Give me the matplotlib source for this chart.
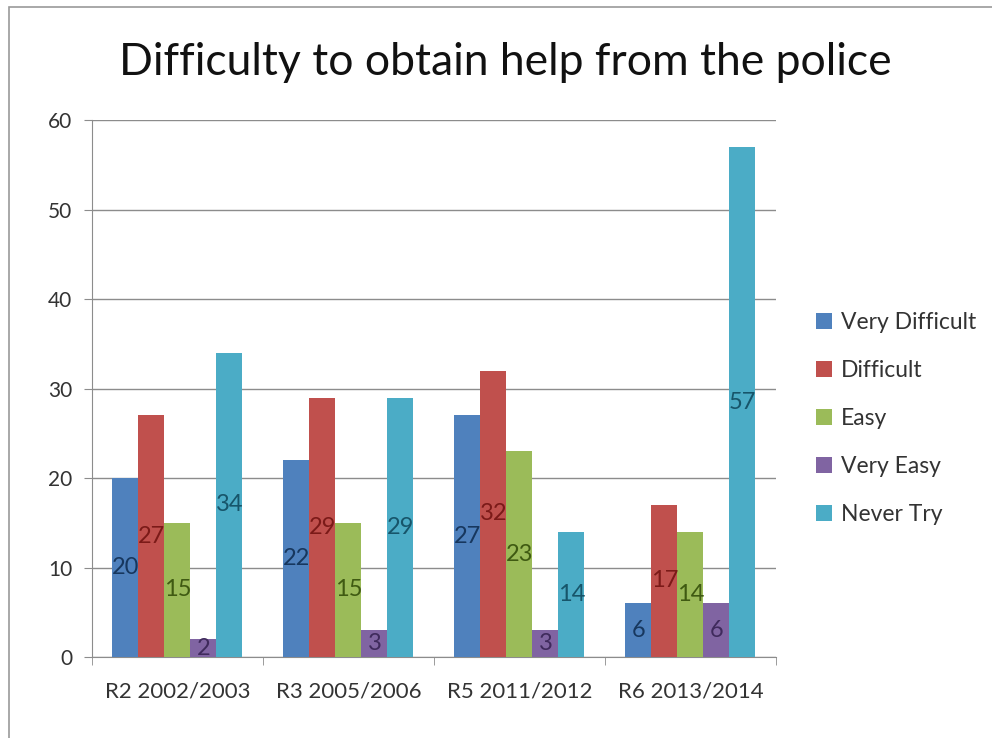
import numpy as np
from matplotlib import pyplot as plt
from matplotlib.patches import Rectangle

plt.rcParams['font.family'] = ['Lato', 'DejaVu Sans']

rounds = ['R2 2002/2003', 'R3 2005/2006', 'R5 2011/2012', 'R6 2013/2014']
very_difficult = [20, 22, 27, 6]
difficult = [27, 29, 32, 17]
easy = [15, 15, 23, 14]
very_easy = [2, 3, 3, 6]
never_try = [34, 29, 14, 57]

series = [
    ('Very Difficult', very_difficult, '#4F81BD', '#17375E'),
    ('Difficult', difficult, '#C0504D', '#7B1A18'),
    ('Easy', easy, '#9BBB59', '#3F5A12'),
    ('Very Easy', very_easy, '#8064A2', '#3F2A5C'),
    ('Never Try', never_try, '#4BACC6', '#17556A'),
]

fig = plt.figure(figsize=(9.92, 7.38), dpi=100)
# thin frame around the chart area
fig.patches.append(Rectangle((0.009, -0.01), 1.2, 1.0, transform=fig.transFigure,
                             fill=False, edgecolor='#9a9a9a', linewidth=1.2))
ax = fig.add_axes([0.0927, 0.1098, 0.6895, 0.7272])

x = np.arange(len(rounds))
width = 0.152
for i, (name, vals, color, txtcolor) in enumerate(series):
    pos = x + (i - 2) * width
    bars = ax.bar(pos, vals, width, color=color, label=name, zorder=3)
    for b, v in zip(bars, vals):
        ax.text(b.get_x() + b.get_width() / 2, v / 2, str(v), ha='center', va='center',
                fontsize=17, color=txtcolor, zorder=4)

ax.set_ylim(0, 60)
ax.set_xlim(-0.5, len(rounds) - 0.5)
ax.set_yticks(range(0, 61, 10))
ax.yaxis.grid(True, color='#8c8c8c', linewidth=1)
ax.set_axisbelow(True)

ax.set_xticks(x)
ax.set_xticklabels(rounds)
ax.tick_params(axis='x', length=0, labelsize=16, colors='#333333', pad=18)
ax.set_xticks(np.arange(-0.5, len(rounds)), minor=True)
ax.tick_params(axis='x', which='minor', length=6, color='#8c8c8c')
ax.tick_params(axis='y', length=6, color='#8c8c8c', labelsize=15, labelcolor='#333333', pad=8)

for s in ['top', 'right']:
    ax.spines[s].set_visible(False)
for s in ['left', 'bottom']:
    ax.spines[s].set_color('#8c8c8c')

fig.text(0.509, 0.915, 'Difficulty to obtain help from the police', ha='center', va='center',
         fontsize=32, color='#111111')

ax.legend(loc='center left', bbox_to_anchor=(1.028, 0.445), frameon=False, fontsize=16.5,
          handlelength=0.7, handleheight=0.7, handletextpad=0.4, labelspacing=1.18,
          labelcolor='#333333')

fig.savefig('out.png', dpi=100)
